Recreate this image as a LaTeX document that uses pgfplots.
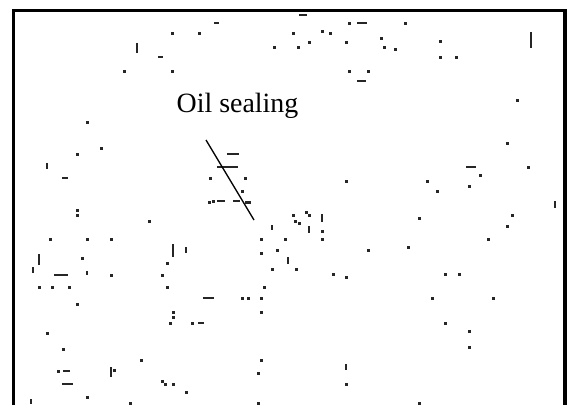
\documentclass[border=0pt]{standalone}
\usepackage{pgfplots}
\pgfplotsset{compat=1.18}
\usepackage{fontspec}
\setmainfont{Liberation Serif}
\begin{document}
\begin{tikzpicture}
\begin{axis}[
  width=571bp, height=405bp, scale only axis,
  xmin=0, xmax=571, ymin=0, ymax=405, y dir=reverse,
  hide axis, clip=false, unbounded coords=jump,
]
% invisible extent of the picture
\addplot[draw=none, forget plot] coordinates {(0,0) (571,405)};
% frame (left, top, right)
\addplot[black, line width=3.2bp, line join=miter] coordinates {(13.5,405) (13.5,10.5) (565,10.5) (565,405)};
% dots
\addplot[only marks, mark=square*, mark size=1.3bp, black!85, mark options={draw=none}] coordinates {
(172,33)(124,71)(172,71)(87,122)
(199,33)(293,33)(274,47)(298,47)(309,42)(322,31)(330,33)(349,23)(346,42)(349,71)(368,71)
(381,38)(384,47)(395,49)(405,23)(440,41)(440,57)(456,57)(517,100)
(77,154)(101,148)(77,210)(77,215)(149,221)(50,239)(87,239)(111,239)(82,258)(167,263)(111,275)(162,275)
(210,178)(245,178)(242,191)(209,202)(213,201)(246,202)(249,202)(346,181)(293,215)(306,212)(309,215)(295,221)(299,223)(322,231)(261,239)(285,239)(322,239)(277,250)(261,253)(368,250)(272,269)(296,269)(333,274)(346,277)
(507,143)(528,167)(480,175)(427,181)(469,186)(437,191)(419,218)(512,215)(507,226)(488,239)(408,247)(445,274)(459,274)
(39,287)(52,287)(69,287)(167,287)(77,304)(173,312)(173,317)(170,323)(47,333)(63,349)(141,360)(58,371)(114,370)(162,381)(165,384)(173,384)(186,392)(87,397)(130,403)
(264,287)(242,298)(248,298)(261,298)(261,312)(192,323)(261,360)(258,373)(346,384)(258,403)
(432,298)(493,298)(445,323)(469,331)(469,347)(419,403)
};
% horizontal dashes
\addplot[black!85, line width=2.8bp] coordinates {
(299,15)(307,15) (303,nan)
(214,23)(219,23) (216,nan)
(357,23)(367,23) (360,nan)
(357,81)(366,81) (360,nan)
(158,57)(163,57) (160,nan)
(62,178)(68,178) (65,nan)
(54,275)(68,275) (60,nan)
(227,154)(239,154) (230,nan)
(217,167)(238,167) (230,nan)
(217,201)(225,201) (220,nan)
(233,201)(240,201) (236,nan)
(466,167)(476,167) (470,nan)
(63,371)(70,371) (66,nan)
(62,384)(73,384) (66,nan)
(203,298)(214,298) (208,nan)
(198,323)(204,323)
};
% vertical bars
\addplot[black!85, line width=2.8bp] coordinates {
(137,43)(137,53) (137,nan)
(531,32)(531,48) (531,nan)
(47,163)(47,169) (47,nan)
(173,244)(173,257) (173,nan)
(186,247)(186,253) (186,nan)
(39,254)(39,265) (39,nan)
(33,267)(33,273) (33,nan)
(87,271)(87,275) (87,nan)
(322,214)(322,222) (322,nan)
(272,225)(272,230) (272,nan)
(309,226)(309,233) (309,nan)
(288,257)(288,264) (288,nan)
(555,201)(555,208) (555,nan)
(111,367)(111,377) (111,nan)
(346,364)(346,370) (346,nan)
(31,399)(31,404)
};
% annotation leader line
\addplot[black, line width=1.3bp] coordinates {(206,140) (254,220)};
\node[font=\fontsize{28}{31}\selectfont, anchor=base] at (axis cs:237.5,112) {Oil sealing};
\end{axis}
\end{tikzpicture}
\end{document}
